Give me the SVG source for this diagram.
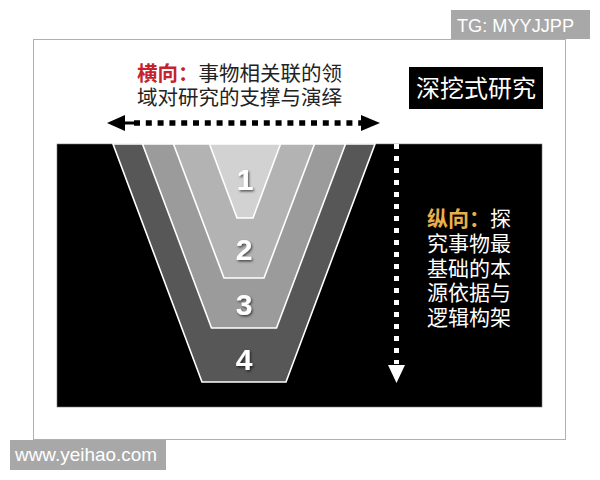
<svg xmlns="http://www.w3.org/2000/svg" width="600" height="480" viewBox="0 0 600 480">
  <defs>
    <style>
      .cjk { font-family: "Noto Sans CJK SC", "Noto Sans", sans-serif; }
      .lat { font-family: "Liberation Sans", Arial, sans-serif; }
      .band { stroke: #ffffff; stroke-width: 1.6; stroke-linejoin: miter; }
      .num { font-family: "Liberation Sans", Arial, sans-serif; font-weight: bold; font-size: 30px; fill: #ffffff; text-anchor: middle; filter: url(#shadow); }
      .wm { fill: #a8a8a8; }
      .wmtext { font-family: "Liberation Sans", Arial, sans-serif; fill: #ffffff; font-size: 19px; }
    </style>
    <filter id="shadow" x="-30%" y="-30%" width="160%" height="160%">
      <feDropShadow dx="1.2" dy="1.5" stdDeviation="0.8" flood-color="#000000" flood-opacity="0.6"/>
    </filter>
  </defs>

  <rect x="0" y="0" width="600" height="480" fill="#ffffff"/>

  <!-- outer frame -->
  <g id="frame">
    <rect x="33.5" y="39.5" width="532" height="400" fill="#ffffff" stroke="#b0b0b0" stroke-width="1"/>
  </g>

  <!-- black panel -->
  <g id="panel">
    <rect x="57" y="144" width="485" height="263" fill="#000000" stroke="#777" stroke-width="0.6"/>
  </g>

  <!-- funnel layers -->
  <g id="layer4">
    <polygon class="band" points="113,144 375,144 286,382 202,382" fill="#575757"/>
    <text class="num" x="244" y="370">4</text>
  </g>
  <g id="layer3">
    <polygon class="band" points="142.5,144 345.5,144 276.5,328 211.5,328" fill="#9b9b9b"/>
    <text class="num" x="244" y="315">3</text>
  </g>
  <g id="layer2">
    <polygon class="band" points="173.5,144 314.5,144 264,278 224,278" fill="#b3b3b3"/>
    <text class="num" x="244" y="260">2</text>
  </g>
  <g id="layer1">
    <polygon class="band" points="209.5,144 280.5,144 253,218 237,218" fill="#d2d2d2"/>
    <text class="num" x="245" y="190">1</text>
  </g>

  <!-- horizontal label -->
  <g id="label-horizontal" class="cjk" font-size="20.5">
    <text x="137" y="81"><tspan fill="#c4232b" font-weight="bold">横向：</tspan><tspan fill="#222222">事物相关联的领</tspan></text>
    <text x="137" y="105" fill="#222222">域对研究的支撑与演绎</text>
  </g>

  <!-- title box -->
  <g id="title">
    <rect x="409" y="67" width="134" height="42" fill="#000000"/>
    <text class="cjk" x="476" y="97" font-size="24" fill="#ffffff" text-anchor="middle">深挖式研究</text>
  </g>

  <!-- vertical label -->
  <g id="label-vertical" class="cjk" font-size="21" fill="#ffffff">
    <text x="427" y="226"><tspan fill="#e8b04b" font-weight="bold">纵向：</tspan><tspan>探</tspan></text>
    <text x="427" y="250.75">究事物最</text>
    <text x="427" y="275.5">基础的本</text>
    <text x="427" y="300.25">源依据与</text>
    <text x="427" y="325">逻辑构架</text>
  </g>

  <!-- connectors -->
  <g id="connectors">
    <g id="arrow-horizontal">
      <line x1="124" y1="123" x2="134" y2="123" stroke="#000" stroke-width="3"/>
      <line x1="134" y1="123" x2="362" y2="123" stroke="#000" stroke-width="5.5" stroke-dasharray="6 5.8"/>
      <polygon points="107,123 125,115 125,131" fill="#000"/>
      <polygon points="380,123 361,115 361,131" fill="#000"/>
    </g>
    <g id="arrow-vertical">
      <line x1="396.5" y1="144" x2="396.5" y2="364" stroke="#fff" stroke-width="5" stroke-dasharray="5 7"/>
      <polygon points="388,365 405,365 396.5,383" fill="#fff"/>
    </g>
  </g>

  <!-- watermarks -->
  <g id="watermark-top">
    <rect class="wm" x="451" y="10" width="139" height="29"/>
    <text class="wmtext" x="457" y="32" textLength="117" lengthAdjust="spacingAndGlyphs">TG: MYYJJPP</text>
  </g>
  <g id="watermark-bottom">
    <rect class="wm" x="10" y="440" width="156" height="30"/>
    <text class="wmtext" x="15" y="461" textLength="142" lengthAdjust="spacingAndGlyphs">www.yeihao.com</text>
  </g>
</svg>
